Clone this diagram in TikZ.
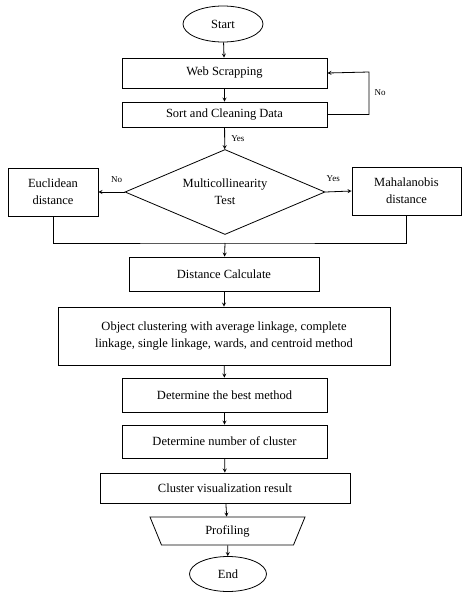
\documentclass[tikz,border=0pt]{standalone}
\usepackage{fontspec}
\setmainfont{Liberation Serif}
\usetikzlibrary{shapes.geometric}
\tikzset{
	box/.style={draw, rectangle, align=center, inner sep=0pt},
	term/.style={draw, ellipse, inner sep=0pt},
	lbl/.style={font=\fontsize{9}{10}\selectfont}
}
\begin{document}
\begin{tikzpicture}[>=stealth, x=1pt, y=-1pt, line width=0.8pt, font=\fontsize{12.5}{17}\selectfont]
		\useasboundingbox (0,0) rectangle (462,592);
		\node[term, minimum width=80pt, minimum height=36pt] (start) at (223,24) {Start};
		\node[box, minimum width=205pt, minimum height=30pt] (web) at (224.5,73) {Web Scrapping};
		\node[box, minimum width=205pt, minimum height=25pt] (sort) at (224.5,114.5) {Sort and Cleaning Data};
		\node[draw, diamond, shape aspect=2.35, minimum width=200pt, minimum height=85pt, inner sep=0pt, align=center] (test) at (225,192) {Multicollinearity\\Test};
		\node[box, minimum width=90pt, minimum height=48pt] (eucl) at (53,192) {Euclidean\\distance};
		\node[box, minimum width=109pt, minimum height=48pt] (maha) at (406.5,191) {Mahalanobis\\distance};
		\node[box, minimum width=190pt, minimum height=34pt] (dist) at (224,274) {Distance Calculate};
		\node[box, minimum width=332pt, minimum height=58pt] (obj) at (224,336) {Object clustering with average linkage, complete\\linkage, single linkage, wards, and centroid method};
		\node[box, minimum width=205pt, minimum height=34pt] (best) at (224.5,395) {Determine the best method};
		\node[box, minimum width=205pt, minimum height=33pt] (num) at (224.5,441.5) {Determine number of cluster};
		\node[box, minimum width=250pt, minimum height=30pt] (vis) at (225,488) {Cluster visualization result};
		\node[draw, trapezium, shape border rotate=180, trapezium stretches body, trapezium angle=45, minimum width=155pt, minimum height=28pt, inner sep=0pt] (prof) at (227.5,531) {Profiling};
		\node[term, minimum width=77pt, minimum height=35pt] (end) at (228,574) {End};
		\coordinate (loop) at (369,72);
		\coordinate (merge) at (225,243);
		\draw[->] (start) -- (web);
		\draw[->] (web) -- (sort);
		\draw[->] (sort.east) -| (loop) -- (web.east);
		\draw (loop) ++(11,21) node[lbl] {No};
		\draw[->] (sort) -- (test) node[lbl, pos=0.5, right=3pt] {Yes};
		\draw[->] (test.west) -- (eucl.east) node[lbl, pos=0.3, above=6pt] {No};
		\draw[->] (test.east) -- (maha.east -| maha.west) node[lbl, pos=0.3, above=6pt] {Yes};
		\draw (eucl.south) |- (merge) -| (maha.south);
		\draw[->] (merge) -- (dist);
		\draw[->] (dist) -- (obj);
		\draw[->] (obj) -- (best);
		\draw[->] (best) -- (num);
		\draw[->] (num) -- (vis);
		\draw[->] (vis) -- (prof);
		\draw[->] (prof) -- (end);
\end{tikzpicture}
\end{document}
